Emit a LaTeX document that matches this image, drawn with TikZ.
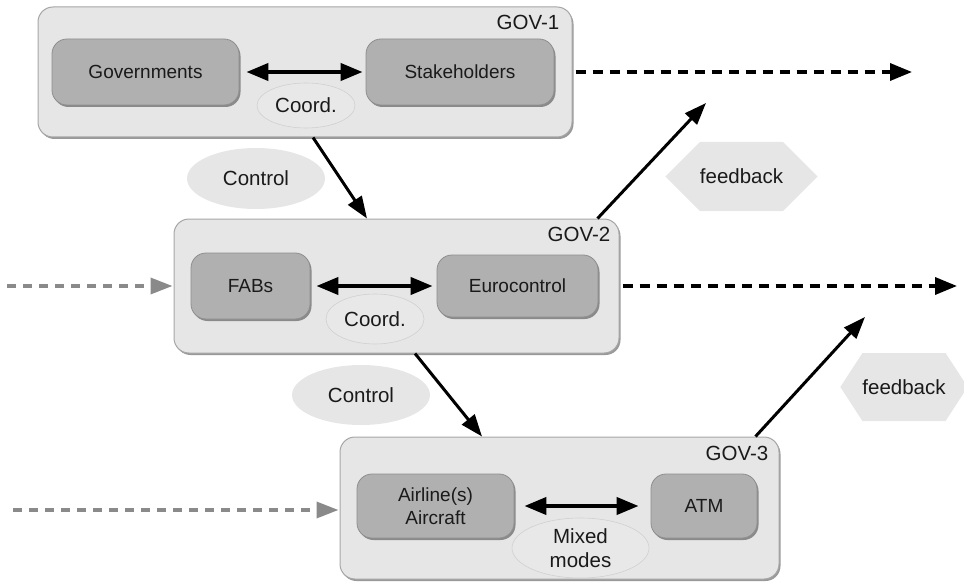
\documentclass[tikz,border=0pt]{standalone}
\usepackage{fontspec}
\setmainfont{Liberation Sans}
\usetikzlibrary{arrows.meta,shapes.geometric,shapes.symbols,shadows}

\definecolor{outerfill}{HTML}{E6E6E6}
\definecolor{outerline}{HTML}{A6A6A6}
\definecolor{innerfill}{HTML}{B0B0B0}
\definecolor{innerline}{HTML}{8E8E8E}
\definecolor{ellfill}{HTML}{E8E8E8}
\definecolor{ellline}{HTML}{D0D0D0}
\definecolor{inflow}{HTML}{8A8A8A}
\definecolor{txt}{HTML}{1A1A1A}

\tikzset{
  govbox/.style={draw=outerline, fill=outerfill, line width=1pt, rounded corners=15pt,
    drop shadow={shadow xshift=1.5pt, shadow yshift=-2pt, fill=black!50, opacity=.8}},
  actor/.style={draw=innerline, fill=innerfill, line width=.8pt, rounded corners=15pt,
    align=center, font=\fontsize{19}{23}\selectfont,
    drop shadow={shadow xshift=1.5pt, shadow yshift=-2pt, fill=black!55, opacity=.8}},
  coordell/.style={ellipse, draw=ellline, fill=ellfill, line width=.6pt, align=center},
  ctrlell/.style={ellipse, fill=outerfill},
  fbhex/.style={signal, signal to=east and west, fill=outerfill},
  govlabel/.style={anchor=north east},
  dblarrow/.style={line width=4pt, {Triangle[length=22pt,width=17pt]}-{Triangle[length=22pt,width=17pt]}},
  ctrlarrow/.style={line width=3pt, -{Triangle[length=22pt,width=16pt]}},
  outflow/.style={line width=3.5pt, dash pattern=on 10pt off 7pt, -{Triangle[length=22pt,width=17pt]}},
  inflowarrow/.style={line width=3.5pt, draw=inflow, dash pattern=on 9pt off 7pt, -{Triangle[length=22pt,width=16pt,fill=inflow]}},
}

\begin{document}
\begin{tikzpicture}[x=1pt, y=-1pt, every node/.style={font=\fontsize{20.5}{24}\selectfont, text=txt, inner sep=0pt}]
\useasboundingbox (0,0) rectangle (964,583);

% GOV-1
\node[govbox, minimum width=534pt, minimum height=130pt] (gov1) at (305,72) {};
\node[govlabel] (gov1lab) at ([xshift=-13pt, yshift=-8pt]gov1.north east) {GOV-1};
\node[actor, minimum width=187pt, minimum height=66pt] (govs) at (145.5,72) {Governments};
\node[actor, minimum width=188pt, minimum height=66pt] (stake) at (460,72) {Stakeholders};
\node[coordell, minimum width=98pt, minimum height=45pt] (coord1) at (306,105.5) {Coord.};
\draw[dblarrow] ([xshift=7pt]govs.east) -- ([xshift=-3pt]stake.west);

% GOV-2
\node[govbox, minimum width=445pt, minimum height=134pt] (gov2) at (396.5,286) {};
\node[govlabel] (gov2lab) at ([xshift=-9pt, yshift=-8pt]gov2.north east) {GOV-2};
\node[actor, minimum width=119pt, minimum height=66pt] (fabs) at (250.5,286) {FABs};
\node[actor, minimum width=161pt, minimum height=62pt] (euro) at (517.5,286) {Eurocontrol};
\node[coordell, minimum width=98pt, minimum height=50pt] (coord2) at (375,319) {Coord.};
\draw[dblarrow] ([xshift=6pt]fabs.east) -- ([xshift=-4pt]euro.west);

% GOV-3
\node[govbox, minimum width=439pt, minimum height=142pt] (gov3) at (559.5,508) {};
\node[govlabel] (gov3lab) at ([xshift=-11pt, yshift=-9pt]gov3.north east) {GOV-3};
\node[actor, minimum width=157pt, minimum height=64pt] (airl) at (435.5,506) {Airline(s)\\Aircraft};
\node[actor, minimum width=106pt, minimum height=64pt] (atm) at (704,506) {ATM};
\node[coordell, minimum width=137pt, minimum height=60pt] (mixed) at (580.5,548) {Mixed\\modes};
\draw[dblarrow] ([xshift=10pt]airl.east) -- ([xshift=-12pt]atm.west);

% control
\node[ctrlell, minimum width=138pt, minimum height=61pt] (ctrl1) at (256,178.5) {Control};
\node[ctrlell, minimum width=138pt, minimum height=60pt] (ctrl2) at (361,395) {Control};
\draw[ctrlarrow] ([xshift=8pt]gov1.south) -- ([xshift=-29.5pt]gov2.north);
\draw[ctrlarrow] ([xshift=18.5pt]gov2.south) -- ([xshift=-77.5pt]gov3.north);

% feedback
\node[fbhex, signal pointer angle=90, minimum width=135pt, minimum height=69pt] (fb1) at (741.5,176.5) {feedback};
\node[fbhex, signal pointer angle=114, minimum width=124pt, minimum height=68pt] (fb2) at (904,387) {feedback};
\coordinate (fbend1) at (706,103);
\coordinate (fbend2) at (865,317);
\draw[ctrlarrow] ([xshift=-22pt]gov2.north east) -- (fbend1);
\draw[ctrlarrow] ([xshift=-24pt]gov3.north east) -- (fbend2);

% flows in and out
\coordinate (out1) at (912,72);
\coordinate (out2) at (957,286);
\coordinate (in2) at (7,286);
\coordinate (in3) at (13,510);
\draw[outflow] ([xshift=3pt]gov1.east) -- (out1);
\draw[outflow] ([xshift=3pt]gov2.east) -- (out2);
\draw[inflowarrow] (in2) -- ([xshift=-1pt]gov2.west);
\draw[inflowarrow] (in3) -- ([xshift=-1pt]in3 -| gov3.west);

\end{tikzpicture}
\end{document}
